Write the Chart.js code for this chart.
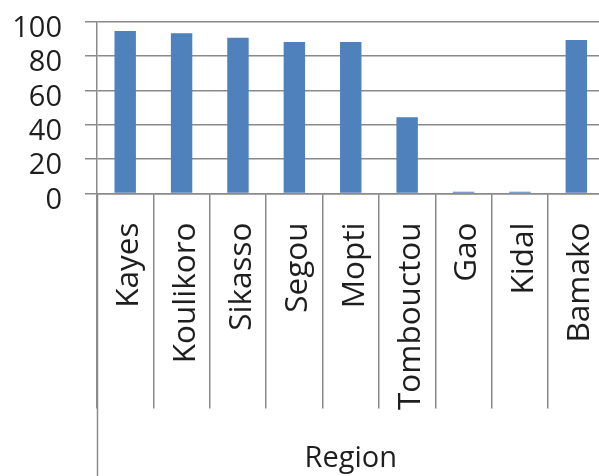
<!DOCTYPE html>
<html>
<head>
<meta charset="utf-8">
<script src="https://cdn.jsdelivr.net/npm/chart.js@4/dist/chart.umd.min.js"></script>
<style>
  html, body { margin: 0; padding: 0; background: #ffffff; overflow: hidden; }
  #wrap { position: absolute; left: 0; top: 0; width: 620px; height: 476px; }
</style>
</head>
<body>
<div id="wrap"><canvas id="chart" width="620" height="476"></canvas></div>
<script>
// Regions of Mali along the category axis
const regions = ['Kayes', 'Koulikoro', 'Sikasso', 'Segou', 'Mopti', 'Tombouctou', 'Gao', 'Kidal', 'Bamako'];
// Percentage per region
const values = [94.5, 93.1, 90.6, 88.1, 88.1, 44.3, 1, 1, 89.2];
// Value axis ticks
const yTicks = [0, 20, 40, 60, 80, 100];
const xTitle = 'Region';

const BAR = '#4F81BD';
const GRID = '#8a8a8a';
const TEXT = '#1e1e1e';
const FONT = '"Open Sans", "Liberation Sans", sans-serif';

// Carries the outer left category line down to the bottom of the canvas
const outerLine = {
  id: 'outerLine',
  afterDraw(chart) {
    const x = chart.scales.x;
    const ctx = chart.ctx;
    const px = Math.round(x.left) + 0.5;
    ctx.save();
    ctx.strokeStyle = GRID;
    ctx.lineWidth = 1.5;
    ctx.beginPath();
    ctx.moveTo(px, x.top);
    ctx.lineTo(px, chart.height);
    ctx.stroke();
    ctx.restore();
  }
};

new Chart(document.getElementById('chart'), {
  type: 'bar',
  data: {
    labels: regions,
    datasets: [{
      data: values,
      backgroundColor: BAR,
      borderWidth: 0,
      categoryPercentage: 1,
      barPercentage: 0.38
    }]
  },
  options: {
    responsive: false,
    animation: false,
    layout: { padding: { top: 21.5, right: 15.5, bottom: 0, left: 0 } },
    plugins: { legend: { display: false }, tooltip: { enabled: false } },
    scales: {
      y: {
        min: 0,
        max: 100,
        afterBuildTicks(scale) { scale.ticks = yTicks.map(v => ({ value: v })); },
        afterFit(scale) {
          scale.width = 97;
          scale.paddingTop = 0;
          scale.paddingBottom = 0;
        },
        ticks: {
          color: TEXT,
          font: { family: FONT, size: 29 },
          padding: 23,
          labelOffset: 7,
          autoSkip: false
        },
        grid: { color: GRID, lineWidth: 1.5, tickLength: 12 },
        border: { display: true, color: GRID, width: 1.5 }
      },
      x: {
        afterFit(scale) {
          scale.height = 282.5;
          scale.paddingLeft = 0;
          scale.paddingRight = 0;
        },
        ticks: {
          color: TEXT,
          font: { family: FONT, size: 31.5 },
          minRotation: 90,
          maxRotation: 90,
          autoSkip: false,
          padding: -186,
          labelOffset: 4
        },
        grid: {
          color: GRID,
          lineWidth: 1.5,
          drawOnChartArea: false,
          drawTicks: true,
          tickLength: 215,
          offset: true
        },
        border: { display: true, color: GRID, width: 1.5 },
        title: {
          display: true,
          text: xTitle,
          color: TEXT,
          font: { family: FONT, size: 29 },
          padding: { top: 4, bottom: -0.5 }
        }
      }
    }
  },
  plugins: [outerLine]
});
</script>
</body>
</html>
